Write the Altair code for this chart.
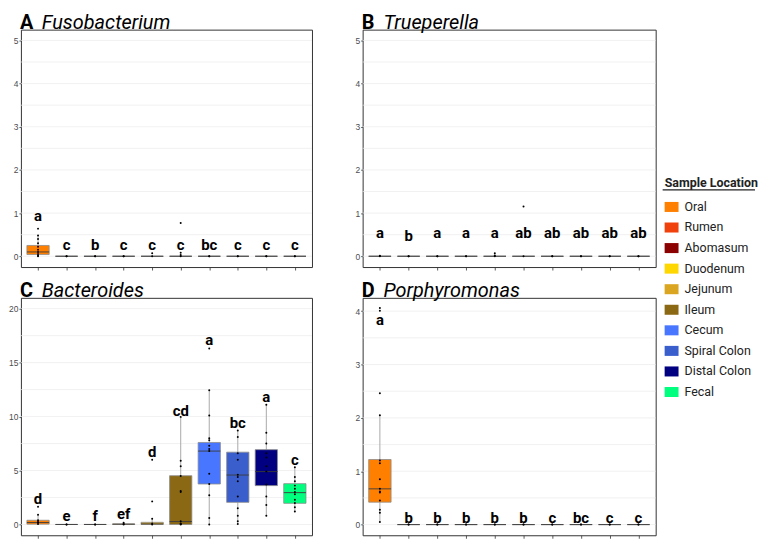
import altair as alt
import pandas as pd

locations = ["Oral", "Rumen", "Abomasum", "Duodenum", "Jejunum", "Ileum",
             "Cecum", "Spiral Colon", "Distal Colon", "Fecal"]
colors = ["#FF7F00", "#F0400C", "#8B0000", "#FFD700", "#DAA520", "#8B6914",
          "#4876FF", "#3A5FCD", "#000080", "#00FF7F"]

# ---- Panel A: Fusobacterium ----
fuso_q1 = [0.04, 0, 0, 0, 0, 0, 0, 0, 0, 0]
fuso_med = [0.10, 0, 0, 0, 0, 0, 0, 0, 0, 0]
fuso_q3 = [0.25, 0, 0, 0, 0, 0, 0, 0, 0, 0]
fuso_lo = [0.0, 0, 0, 0, 0, 0, 0, 0, 0, 0]
fuso_hi = [0.49, 0, 0, 0, 0, 0, 0, 0, 0, 0]
fuso_pts = [[0.64, 0.48, 0.40, 0.30, 0.22, 0.15, 0.10, 0.05, 0.02, 0.0],
            [0, 0], [0, 0], [0, 0], [0.07, 0.0], [0.77, 0.08, 0.03, 0.0],
            [0, 0], [0, 0], [0, 0], [0, 0]]
fuso_letters = ["a", "c", "b", "c", "c", "c", "bc", "c", "c", "c"]
fuso_letter_y = [0.94, 0.26, 0.26, 0.26, 0.26, 0.26, 0.26, 0.26, 0.26, 0.26]

# ---- Panel B: Trueperella ----
true_q1 = [0] * 10
true_med = [0] * 10
true_q3 = [0] * 10
true_lo = [0] * 10
true_hi = [0] * 10
true_pts = [[0.01, 0.0], [0, 0], [0, 0], [0, 0], [0.07, 0.02, 0.0], [1.15, 0.0],
            [0, 0], [0, 0], [0, 0], [0, 0]]
true_letters = ["a", "b", "a", "a", "a", "ab", "ab", "ab", "ab", "ab"]
true_letter_y = [0.53, 0.47, 0.53, 0.53, 0.53, 0.53, 0.53, 0.53, 0.53, 0.53]

# ---- Panel C: Bacteroides ----
bact_q1 = [0.03, 0, 0, 0.0, 0.0, 0.0, 3.75, 2.05, 3.6, 1.96]
bact_med = [0.18, 0, 0, 0.03, 0.05, 0.27, 6.8, 4.58, 4.9, 2.95]
bact_q3 = [0.39, 0, 0, 0.05, 0.2, 4.52, 7.6, 6.7, 6.93, 3.78]
bact_lo = [0.0, 0, 0, 0.0, 0.0, 0.0, 0.0, 0.05, 0.8, 1.19]
bact_hi = [0.9, 0, 0, 0.15, 0.54, 9.97, 12.44, 8.7, 11.1, 5.3]
bact_pts = [[1.64, 0.9, 0.4, 0.25, 0.15, 0.05],
            [0, 0], [0, 0], [0.15, 0.05, 0.0],
            [6.0, 2.14, 0.54, 0.1, 0.0],
            [9.97, 5.9, 5.4, 4.5, 3.1, 3.0, 0.3, 0.1, 0.05, 0.0],
            [16.3, 12.44, 10.1, 8.0, 7.8, 7.3, 7.0, 6.8, 4.7, 3.75, 2.7, 0.6, 0.0],
            [8.7, 8.1, 6.6, 6.0, 4.6, 4.4, 4.0, 2.6, 1.5, 0.8, 0.3, 0.05],
            [11.1, 8.5, 7.5, 6.6, 6.2, 5.4, 4.9, 3.7, 2.6, 1.8, 0.8],
            [5.3, 4.4, 4.0, 3.6, 3.3, 3.0, 2.8, 2.3, 2.0, 1.6, 1.2]]
bact_letters = ["d", "e", "f", "ef", "d", "cd", "a", "bc", "a", "c"]
bact_letter_y = [2.4, 0.74, 0.74, 0.95, 6.7, 10.5, 17.1, 9.4, 11.8, 5.95]

# ---- Panel D: Porphyromonas ----
porp_q1 = [0.42, 0, 0, 0, 0, 0, 0, 0, 0, 0]
porp_med = [0.67, 0, 0, 0, 0, 0, 0, 0, 0, 0]
porp_q3 = [1.22, 0, 0, 0, 0, 0, 0, 0, 0, 0]
porp_lo = [0.05, 0, 0, 0, 0, 0, 0, 0, 0, 0]
porp_hi = [2.05, 0, 0, 0, 0, 0, 0, 0, 0, 0]
porp_pts = [[4.06, 4.01, 2.46, 2.05, 1.2, 1.15, 0.85, 0.67, 0.62, 0.6, 0.45, 0.28, 0.22, 0.05],
            [0, 0], [0, 0], [0, 0], [0, 0], [0, 0], [0, 0], [0, 0], [0, 0], [0, 0]]
porp_letters = ["a", "b", "b", "b", "b", "b", "c", "bc", "c", "c"]
porp_letter_y = [3.84, 0.13, 0.13, 0.13, 0.13, 0.13, 0.13, 0.13, 0.13, 0.13]

FONT = "Roboto"


def panel(tag, genus, q1, med, q3, lo, hi, pts, letters, letter_y,
          domain, ticks, grid, width, height, extra=None):
    idx = list(range(1, 11))
    box = pd.DataFrame({"loc": locations, "idx": idx, "q1": q1, "med": med,
                        "q3": q3, "lo": lo, "hi": hi})
    prow = []
    for i, vals in enumerate(pts):
        for v in vals:
            prow.append({"loc": locations[i], "idx": i + 1, "v": v})
    pdf = pd.DataFrame(prow)
    ldf = pd.DataFrame({"idx": idx, "lab": letters, "ly": letter_y})
    gdf = pd.DataFrame({"g": grid})

    xs = alt.Scale(domain=[0.4, 10.6], nice=False, zero=False)
    ys = alt.Scale(domain=domain, nice=False, zero=False)
    xaxis = alt.Axis(values=idx, labels=False, title=None, grid=False, domain=False,
                     tickSize=3, tickColor="#333333", tickWidth=0.8)
    yaxis = alt.Axis(values=ticks, title=None, grid=False, domain=False,
                     tickSize=2, tickColor="#333333", tickWidth=0.8,
                     labelFontSize=8.5, labelColor="#4D4D4D", labelPadding=1,
                     labelFont="Liberation Sans")

    def X(f):
        return alt.X(f, scale=xs, axis=xaxis)

    def Y(f):
        return alt.Y(f, scale=ys, axis=yaxis)

    gridl = alt.Chart(gdf).mark_rule(color="#EBEBEB", strokeWidth=0.7).encode(
        y=Y("g:Q"), x=alt.value(0), x2=alt.value(width))
    xax = alt.Chart(box).mark_point(opacity=0).encode(x=X("idx:Q"), y=Y("med:Q"))
    wlo = alt.Chart(box).mark_rule(color="#A8A8A8", strokeWidth=1).encode(
        x=X("idx:Q"), y=Y("lo:Q"), y2="q1:Q")
    whi = alt.Chart(box).mark_rule(color="#A8A8A8", strokeWidth=1).encode(
        x=X("idx:Q"), y=Y("q3:Q"), y2="hi:Q")
    rect = alt.Chart(box).mark_rect(stroke="#8C8C8C", strokeWidth=0.8).transform_calculate(
        xa="datum.idx - 0.39", xb="datum.idx + 0.39").encode(
        x=X("xa:Q"), x2="xb:Q", y=Y("q1:Q"), y2="q3:Q",
        fill=alt.Fill("loc:N", scale=alt.Scale(domain=locations, range=colors),
                      legend=alt.Legend(title="Sample Location")))
    medr = alt.Chart(box).mark_rule(color="#3A3A3A", strokeWidth=0.9).transform_calculate(
        xa="datum.idx - 0.39", xb="datum.idx + 0.39").encode(
        x=X("xa:Q"), x2="xb:Q", y=Y("med:Q"))
    dots = alt.Chart(pdf).mark_circle(color="black", size=4, opacity=1).encode(
        x=X("idx:Q"), y=Y("v:Q"))
    labs = alt.Chart(ldf).mark_text(font=FONT, fontWeight="bold", fontSize=15,
                                    color="black", baseline="middle").encode(
        x=X("idx:Q"), y=Y("ly:Q"), text="lab:N")
    tdf = pd.DataFrame({"tag": [tag], "genus": [genus]})
    t1 = alt.Chart(tdf).mark_text(font=FONT, fontWeight="bold", fontSize=20, align="left",
                                  baseline="alphabetic", color="black").encode(
        x=alt.value(-1), y=alt.value(-1), text="tag:N")
    t2 = alt.Chart(tdf).mark_text(font=FONT, fontStyle="italic", fontSize=20, align="left",
                                  baseline="alphabetic", color="black").encode(
        x=alt.value(21), y=alt.value(-1), text="genus:N")
    layers = [gridl, xax, wlo, whi, rect, medr, dots, labs, t1, t2]
    if extra is not None:
        layers.append(extra)
    return alt.layer(*layers).properties(width=width, height=height)


underline = alt.Chart(pd.DataFrame({"u": [1]})).mark_rule(color="#222222", strokeWidth=1.2).encode(
    x=alt.value(302), x2=alt.value(395), y=alt.value(161.3))

pa = panel("A", "Fusobacterium", fuso_q1, fuso_med, fuso_q3, fuso_lo, fuso_hi, fuso_pts,
           fuso_letters, fuso_letter_y, [-0.25, 5.25], [0, 1, 2, 3, 4, 5],
           [i * 0.5 for i in range(11)], 293, 239)
pb = panel("B", "Trueperella", true_q1, true_med, true_q3, true_lo, true_hi, true_pts,
           true_letters, true_letter_y, [-0.25, 5.25], [0, 1, 2, 3, 4, 5],
           [i * 0.5 for i in range(11)], 295, 239, extra=underline)
pc = panel("C", "Bacteroides", bact_q1, bact_med, bact_q3, bact_lo, bact_hi, bact_pts,
           bact_letters, bact_letter_y, [-1, 21], [0, 5, 10, 15, 20],
           [i * 2.5 for i in range(9)], 293, 239)
pd_ = panel("D", "Porphyromonas", porp_q1, porp_med, porp_q3, porp_lo, porp_hi, porp_pts,
            porp_letters, porp_letter_y, [-0.2, 4.25], [0, 1, 2, 3, 4],
            [i * 0.5 for i in range(9)], 295, 239)

chart = alt.concat(pa, pb, pc, pd_, columns=2,
                   spacing=alt.RowColnumber(row=9, column=41)).properties(
    padding={"top": 2, "left": 0, "right": 0, "bottom": 0}
).configure_view(stroke="#333333", strokeWidth=1).configure_legend(
    orient="none", legendX=648, legendY=148.5,
    titleFont=FONT, titleFontSize=12.5, titleFontWeight="bold", titleColor="#222222",
    titlePadding=10.5, labelFont=FONT, labelFontSize=12.5, labelColor="#222222",
    symbolType="M-1,-0.72H1V0.72H-1Z", symbolSize=196, symbolStrokeWidth=0,
    labelOffset=6, rowPadding=6.7, symbolOpacity=1
)

chart.save("out.html", embed_options={"renderer": "svg", "actions": False})
